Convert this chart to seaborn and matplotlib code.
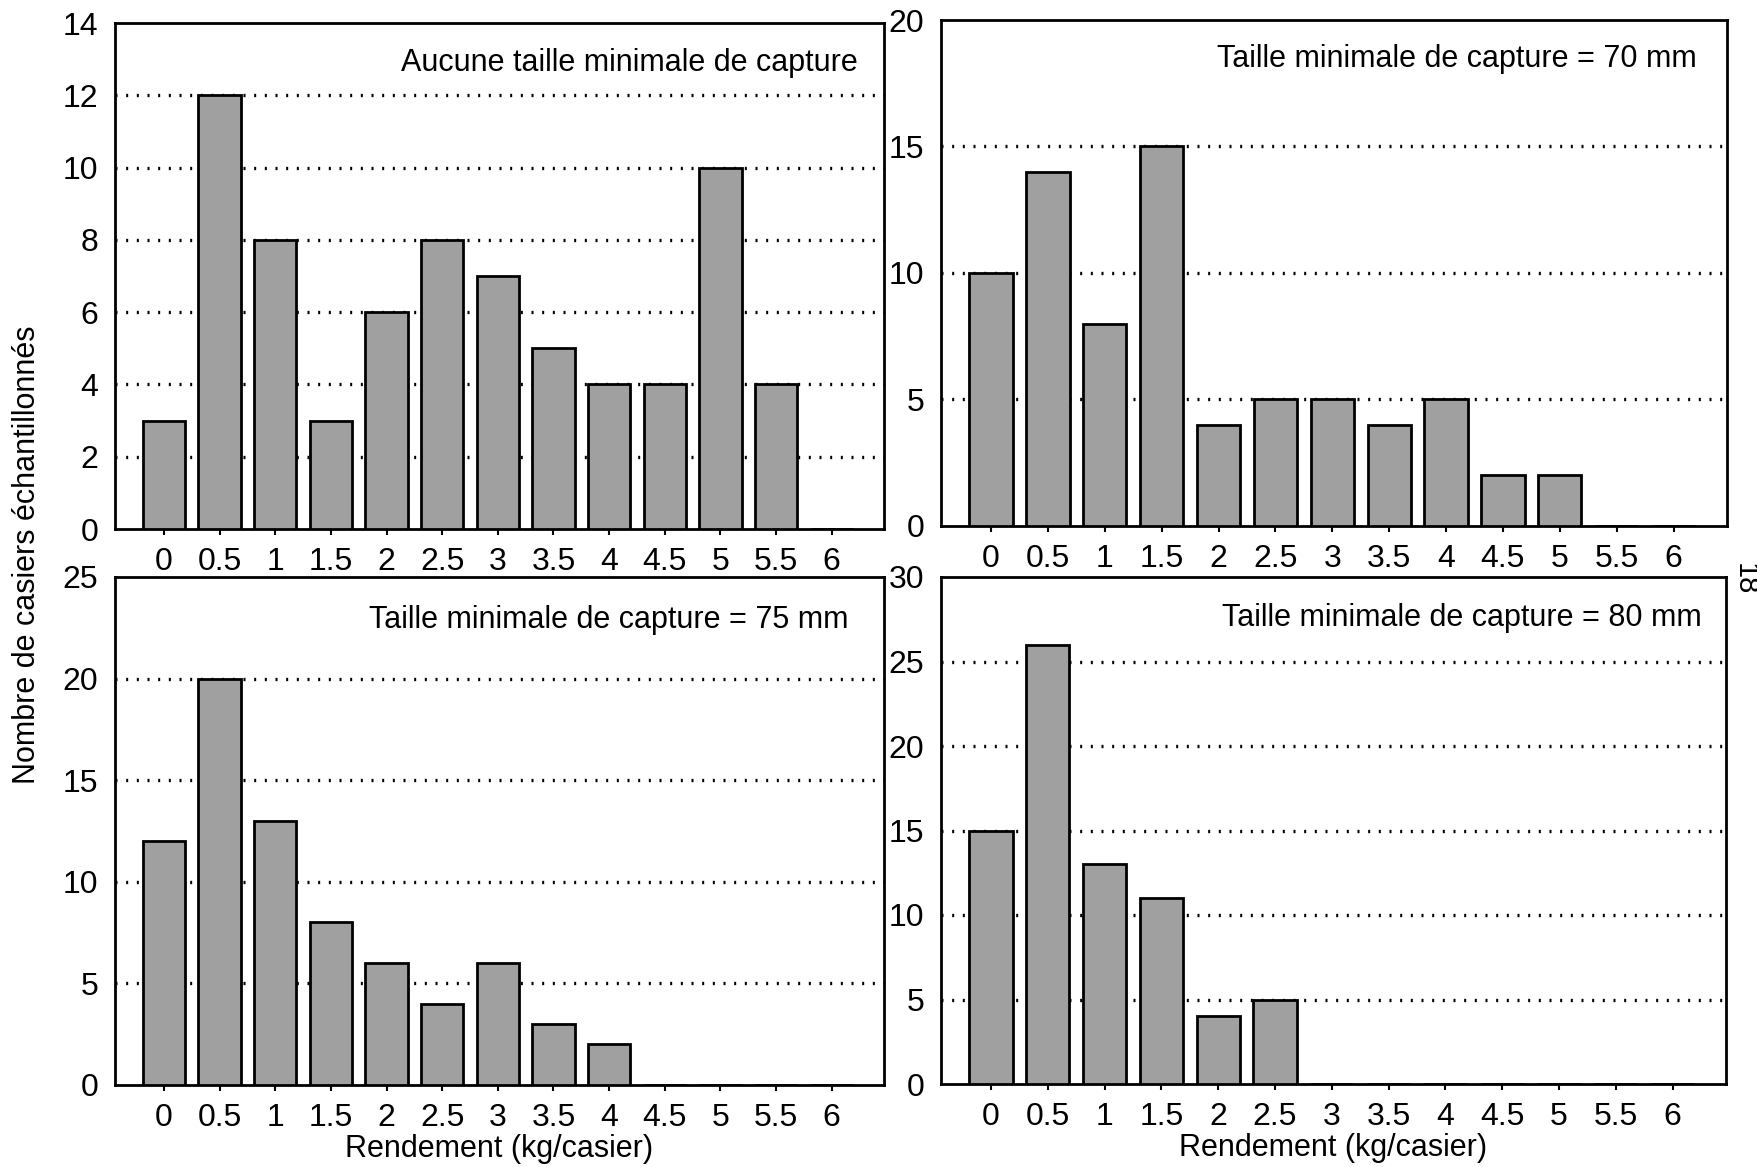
import matplotlib
matplotlib.use("Agg")
import matplotlib.pyplot as plt
import seaborn as sns
import pandas as pd

# ---- data ----
categories = ["0", "0.5", "1", "1.5", "2", "2.5", "3", "3.5", "4", "4.5", "5", "5.5", "6"]
counts_none = [3, 12, 8, 3, 6, 8, 7, 5, 4, 4, 10, 4, 0]
counts_70 = [10, 14, 8, 15, 4, 5, 5, 4, 5, 2, 2, 0, 0]
counts_75 = [12, 20, 13, 8, 6, 4, 6, 3, 2, 0, 0, 0, 0]
counts_80 = [15, 26, 13, 11, 4, 5, 0, 0, 0, 0, 0, 0, 0]
titles = ["Aucune taille minimale de capture",
          "Taille minimale de capture = 70 mm",
          "Taille minimale de capture = 75 mm",
          "Taille minimale de capture = 80 mm"]
ymax = [14, 20, 25, 30]
ystep = [2, 5, 5, 5]
ylabel = "Nombre de casiers échantillonnés"
xlabel = "Rendement (kg/casier)"
page_number = "18"

sns.set_theme(style="white")
plt.rcParams["font.family"] = ["Liberation Sans", "DejaVu Sans"]

W, H = 1757, 1167
fig = plt.figure(figsize=(W / 100, H / 100), dpi=100)

# axes boxes in pixels: left, top, right, bottom
boxes = [(115, 23, 884, 529), (941, 20, 1727, 526),
         (115, 577, 884, 1085), (941, 577, 1726, 1084)]
title_pos = [(0.966, 0.921), (0.961, 0.923), (0.954, 0.915), (0.969, 0.919)]
all_counts = [counts_none, counts_70, counts_75, counts_80]

for i, (l, t, r, b) in enumerate(boxes):
    ax = fig.add_axes([l / W, 1 - b / H, (r - l) / W, (b - t) / H])
    df = pd.DataFrame({"cat": categories, "n": all_counts[i]})
    sns.barplot(data=df, x="cat", y="n", order=categories, ax=ax,
                color="#a0a0a0", saturation=1, edgecolor="black",
                linewidth=2.0, width=0.76, zorder=3)
    ax.set_xlim(-0.88, 12.94)
    ax.set_ylim(0, ymax[i])
    ticks = list(range(0, ymax[i] + 1, ystep[i]))
    ax.set_yticks(ticks)
    for v in ticks[1:-1]:
        ax.axhline(v, color="black", lw=2.4, linestyle=(0, (0.6, 2.6)), zorder=1)
    for s in ax.spines.values():
        s.set_visible(True)
        s.set_color("black")
        s.set_linewidth(2.0)
    ax.tick_params(axis="y", length=0, pad=12, labelsize=23, colors="black")
    ax.tick_params(axis="x", length=4, width=1.5, direction="out", pad=9,
                   labelsize=23, colors="black", bottom=True)
    ax.set_ylabel("")
    if i >= 2:
        ax.set_xlabel(xlabel, fontsize=22, labelpad=1, color="black")
    else:
        ax.set_xlabel("")
    ax.text(title_pos[i][0], title_pos[i][1], titles[i], transform=ax.transAxes,
            ha="right", va="center", fontsize=22, color="black")

fig.text(27 / W, 1 - 555 / H, ylabel, rotation=90, ha="center", va="center",
         fontsize=22, color="black")
fig.text(1745 / W, 1 - 579 / H, page_number, rotation=-90, ha="center", va="center",
         fontsize=21, color="black")

fig.savefig("out.png", dpi=100, facecolor="white")
